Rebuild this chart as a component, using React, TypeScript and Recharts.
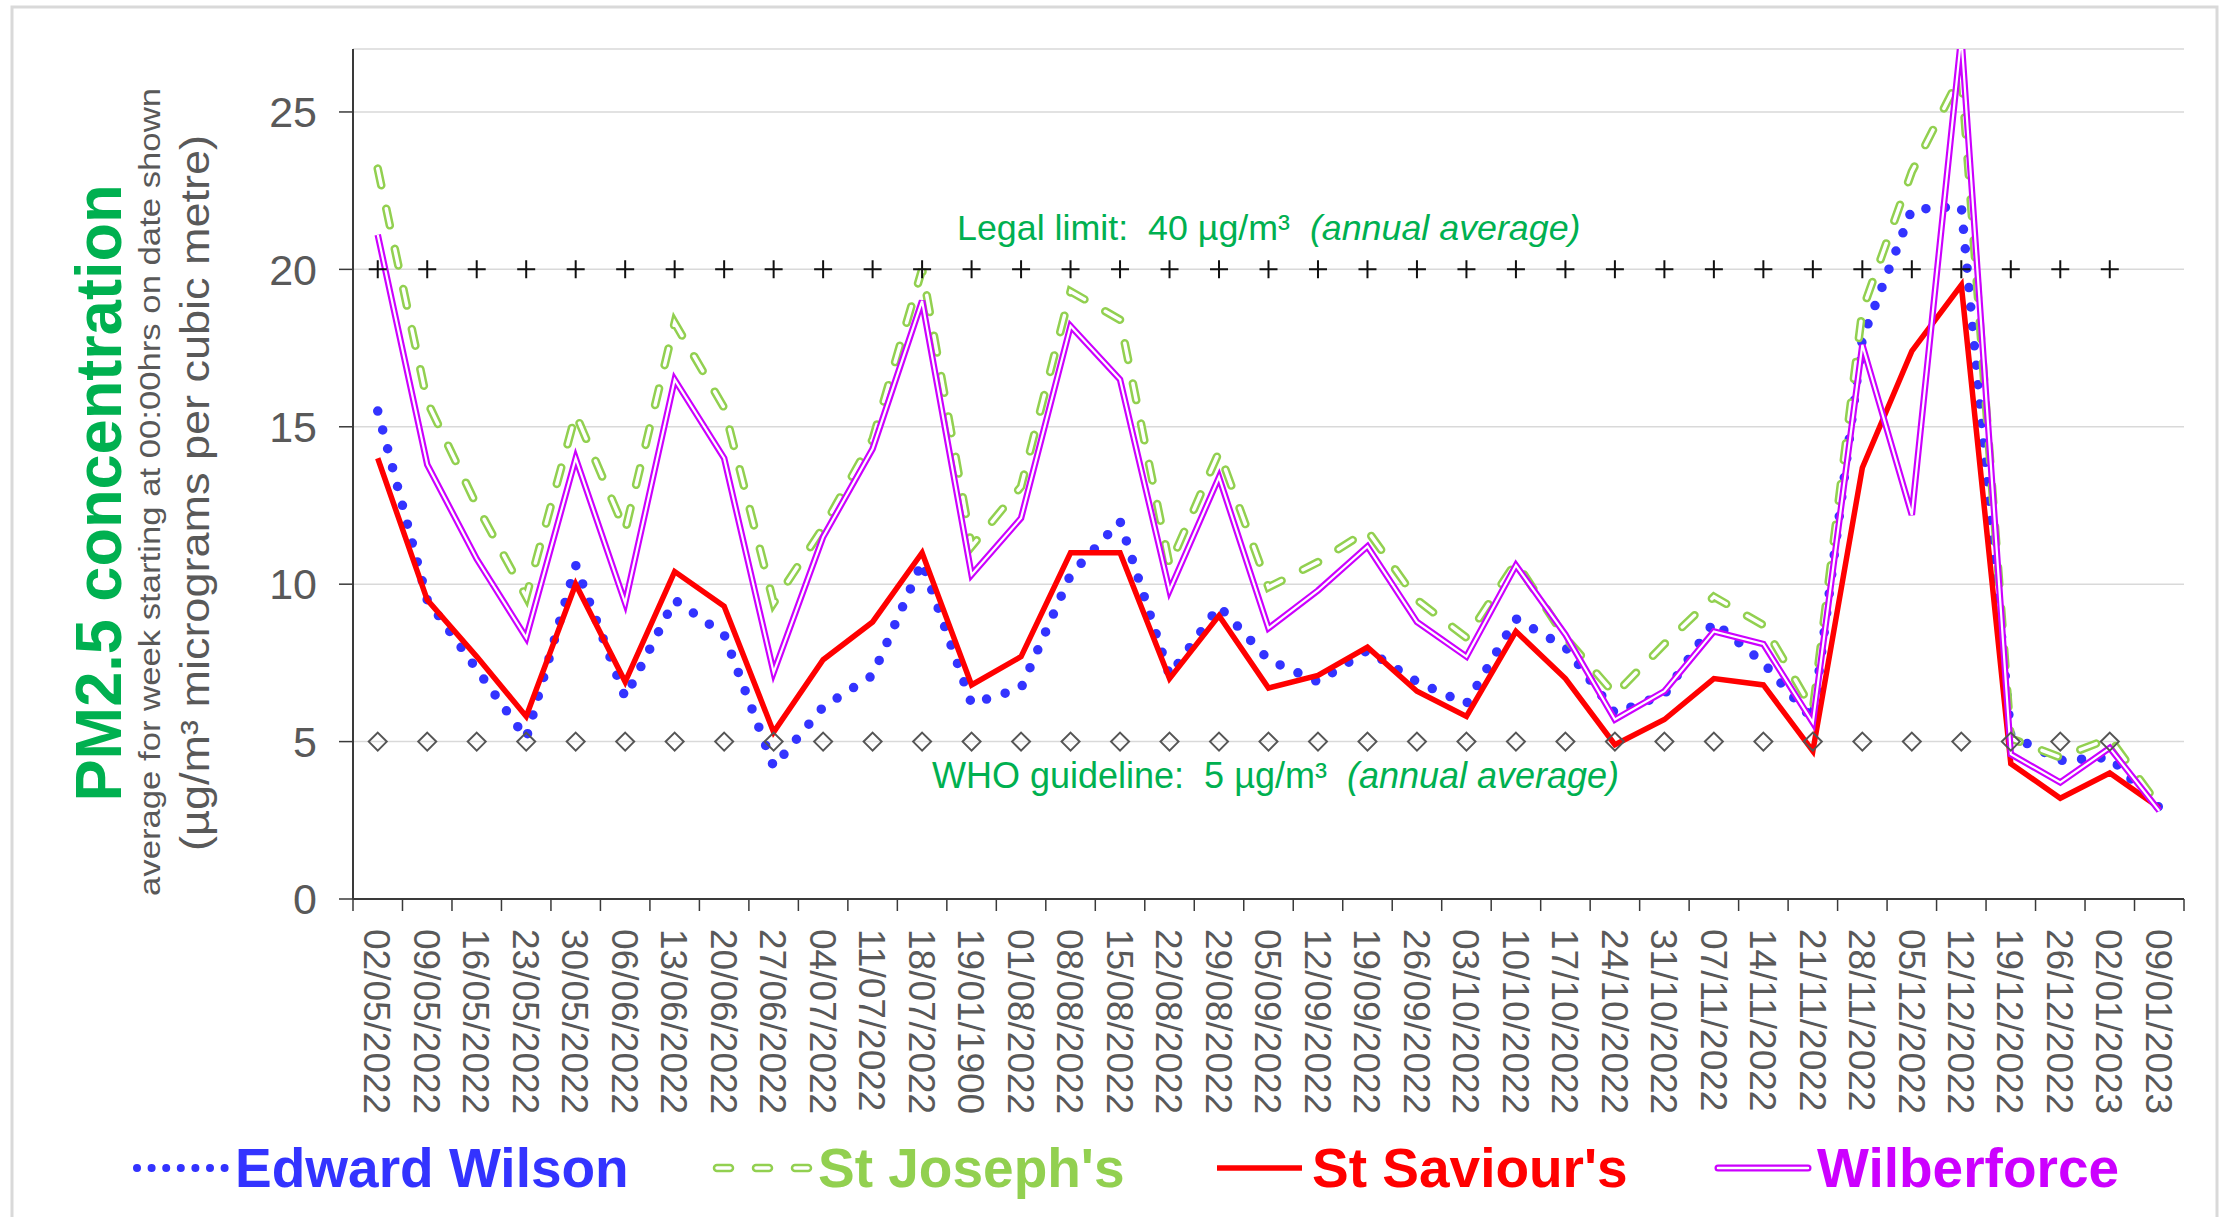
import { LineChart, Line, XAxis, YAxis, CartesianGrid } from "recharts";

const FONT = "'Liberation Sans', Arial, sans-serif";

const dates = [
  "02/05/2022", "09/05/2022", "16/05/2022", "23/05/2022", "30/05/2022", "06/06/2022",
  "13/06/2022", "20/06/2022", "27/06/2022", "04/07/2022", "11/07/2022", "18/07/2022",
  "19/01/1900", "01/08/2022", "08/08/2022", "15/08/2022", "22/08/2022", "29/08/2022",
  "05/09/2022", "12/09/2022", "19/09/2022", "26/09/2022", "03/10/2022", "10/10/2022",
  "17/10/2022", "24/10/2022", "31/10/2022", "07/11/2022", "14/11/2022", "21/11/2022",
  "28/11/2022", "05/12/2022", "12/12/2022", "19/12/2022", "26/12/2022", "02/01/2023",
  "09/01/2023",
];

const edwardWilson = [
  15.5, 9.5, 7.3, 5.1, 10.6, 6.4, 9.5, 8.4, 4.2, 6.1, 7.1, 10.7, 6.2, 6.7, 10.3, 12.0,
  7.1, 9.3, 7.6, 6.9, 7.9, 6.9, 6.2, 8.9, 8.0, 5.9, 6.5, 8.8, 7.5, 5.7, 17.8, 21.9,
  22.0, 5.2, 4.4, 4.5, 2.9,
];
const stJosephs = [
  23.2, 15.8, 12.5, 9.6, 15.4, 11.7, 18.3, 15.6, 9.4, 11.8, 14.6, 20.0, 11.2, 13.1, 19.3, 18.4,
  10.6, 14.2, 9.9, 10.7, 11.7, 9.5, 8.3, 10.7, 8.3, 6.5, 8.1, 9.6, 8.7, 6.0, 18.7, 23.1,
  26.2, 5.1, 4.5, 5.1, 2.95,
];
const stSaviours = [
  14.0, 9.5, 7.7, 5.8, 10.0, 6.9, 10.4, 9.3, 5.3, 7.6, 8.8, 11.0, 6.8, 7.7, 11.0, 11.0,
  7.0, 9.0, 6.7, 7.1, 8.0, 6.6, 5.8, 8.5, 7.0, 4.9, 5.7, 7.0, 6.8, 4.7, 13.7, 17.4,
  19.5, 4.3, 3.2, 4.0, 2.9,
];
const wilberforce = [
  21.1, 13.8, 10.8, 8.3, 14.0, 9.4, 16.5, 14.0, 7.2, 11.5, 14.3, 19.0, 10.3, 12.1, 18.2, 16.5,
  9.8, 13.4, 8.6, 9.8, 11.2, 8.8, 7.7, 10.6, 8.4, 5.7, 6.6, 8.5, 8.1, 5.6, 17.6, 12.2,
  27.4, 4.6, 3.7, 4.8, 2.8,
];

// reference markers (plotted at 20 and 5 on the chart, last week has none)
const legalLimit = [
  20, 20, 20, 20, 20, 20, 20, 20, 20, 20, 20, 20, 20, 20, 20, 20, 20, 20,
  20, 20, 20, 20, 20, 20, 20, 20, 20, 20, 20, 20, 20, 20, 20, 20, 20, 20, null,
];
const whoGuideline = [
  5, 5, 5, 5, 5, 5, 5, 5, 5, 5, 5, 5, 5, 5, 5, 5, 5, 5,
  5, 5, 5, 5, 5, 5, 5, 5, 5, 5, 5, 5, 5, 5, 5, 5, 5, 5, null,
];

const yTicks = [0, 5, 10, 15, 20, 25];

const data = dates.map((d, i) => ({
  idx: i,
  date: d,
  ew: edwardWilson[i],
  sj: stJosephs[i],
  ss: stSaviours[i],
  wf: wilberforce[i],
  legal: legalLimit[i],
  who: whoGuideline[i],
}));

// whole numbers carry the date labels, half steps carry the tick marks between weeks
const xTicks = dates.flatMap((_, i) => [i - 0.5, i]).concat(dates.length - 0.5);

function DateTick(props: any) {
  const { x, y, payload } = props;
  const v = payload.value;
  if (!Number.isInteger(v)) {
    return <line x1={x} y1={y} x2={x} y2={y + 12} stroke="#3a3a3a" strokeWidth={1.5} />;
  }
  const ty = y + 30;
  return (
    <text
      x={x}
      y={ty}
      transform={`rotate(90 ${x} ${ty})`}
      dy="0.36em"
      textAnchor="start"
      fontSize={37}
      fontFamily={FONT}
      fill="#595959"
    >
      {dates[v]}
    </text>
  );
}

function PlusDot(props: any) {
  const { cx, cy, payload } = props;
  if (payload?.legal == null || cy == null) return <g />;
  return (
    <path
      d={`M${cx - 9},${cy}H${cx + 9}M${cx},${cy - 9}V${cy + 9}`}
      stroke="#111"
      strokeWidth={2}
      fill="none"
    />
  );
}

function DiamondDot(props: any) {
  const { cx, cy, payload } = props;
  if (payload?.who == null || cy == null) return <g />;
  return (
    <path
      d={`M${cx},${cy - 9}L${cx + 9},${cy}L${cx},${cy + 9}L${cx - 9},${cy}Z`}
      stroke="#555"
      strokeWidth={2}
      fill="none"
    />
  );
}

const NB = "\u00A0";

export default function App() {
  return (
    <div style={{ position: "absolute", left: 0, top: 0, width: 2224, height: 1217, background: "#fff" }}>
      <LineChart
        width={2224}
        height={1217}
        data={data}
        margin={{ top: 49, right: 40, bottom: 118, left: 0 }}
      >
        <CartesianGrid vertical={false} stroke="#d9d9d9" strokeWidth={1.5} />
        <XAxis
          dataKey="idx"
          type="number"
          domain={[-0.5, dates.length - 0.5]}
          ticks={xTicks}
          interval={0}
          tick={<DateTick />}
          tickLine={false}
          tickSize={0}
          tickMargin={0}
          axisLine={{ stroke: "#3a3a3a", strokeWidth: 2 }}
          height={200}
        />
        <YAxis
          domain={[0, 27]}
          allowDataOverflow
          ticks={yTicks}
          interval={0}
          width={353}
          tickSize={14}
          tickMargin={22}
          tickLine={{ stroke: "#3a3a3a", strokeWidth: 1.5 }}
          axisLine={{ stroke: "#3a3a3a", strokeWidth: 2 }}
          tick={{ fontSize: 43, fill: "#595959", fontFamily: FONT }}
        />
        {/* Edward Wilson: round dots */}
        <Line
          dataKey="ew"
          type="linear"
          stroke="#3333ff"
          strokeWidth={9.5}
          strokeDasharray="0 19.5"
          strokeLinecap="round"
          dot={false}
          activeDot={false}
          isAnimationActive={false}
        />
        {/* St Joseph's: hollow dashes (green dash with white core) */}
        <Line
          dataKey="sj"
          type="linear"
          stroke="#92d050"
          strokeWidth={8.5}
          strokeDasharray="17 24"
          strokeLinecap="round"
          dot={false}
          activeDot={false}
          isAnimationActive={false}
        />
        <Line
          dataKey="sj"
          type="linear"
          stroke="#ffffff"
          strokeWidth={3.5}
          strokeDasharray="17 24"
          strokeLinecap="round"
          dot={false}
          activeDot={false}
          isAnimationActive={false}
        />
        <Line
          dataKey="ss"
          type="linear"
          stroke="#ff0000"
          strokeWidth={5.5}
          dot={false}
          activeDot={false}
          isAnimationActive={false}
        />
        {/* Wilberforce: double line */}
        <Line
          dataKey="wf"
          type="linear"
          stroke="#cc00ff"
          strokeWidth={6.5}
          dot={false}
          activeDot={false}
          isAnimationActive={false}
        />
        <Line
          dataKey="wf"
          type="linear"
          stroke="#ffffff"
          strokeWidth={2.2}
          dot={false}
          activeDot={false}
          isAnimationActive={false}
        />
        <Line
          dataKey="legal"
          type="linear"
          stroke="none"
          dot={<PlusDot />}
          activeDot={false}
          isAnimationActive={false}
        />
        <Line
          dataKey="who"
          type="linear"
          stroke="none"
          dot={<DiamondDot />}
          activeDot={false}
          isAnimationActive={false}
        />
      </LineChart>

      <svg
        width={2224}
        height={1217}
        style={{ position: "absolute", left: 0, top: 0, pointerEvents: "none" }}
        fontFamily={FONT}
      >
        <rect x={12} y={7} width={2205} height={1230} fill="none" stroke="#d9d9d9" strokeWidth={3} />

        {/* axis titles */}
        <text
          transform="translate(121,493) rotate(-90)"
          textAnchor="middle"
          fontSize={65}
          fontWeight="bold"
          fill="#00b050"
          textLength={617}
          lengthAdjust="spacingAndGlyphs"
        >
          PM2.5 concentration
        </text>
        <text
          transform="translate(160,492) rotate(-90)"
          textAnchor="middle"
          fontSize={30}
          fill="#595959"
          textLength={808}
          lengthAdjust="spacingAndGlyphs"
        >
          average for week starting at 00:00hrs on date shown
        </text>
        <text
          transform="translate(209,493) rotate(-90)"
          textAnchor="middle"
          fontSize={40}
          fill="#595959"
          textLength={716}
          lengthAdjust="spacingAndGlyphs"
        >
          (µg/m³ micrograms per cubic metre)
        </text>

        {/* reference notes */}
        <text x={957} y={240} fontSize={35.8} fill="#00b050">
          {`Legal limit:${NB}${NB}40 µg/m³${NB}${NB}`}
          <tspan fontStyle="italic">(annual average)</tspan>
        </text>
        <text x={932} y={788} fontSize={36} fill="#00b050">
          {`WHO guideline:${NB}${NB}5 µg/m³${NB}${NB}`}
          <tspan fontStyle="italic">(annual average)</tspan>
        </text>

        {/* legend */}
        <line x1={137} y1={1168} x2={225} y2={1168} stroke="#3333ff" strokeWidth={8} strokeDasharray="0 14.6" strokeLinecap="round" />
        <text x={235} y={1187} fontSize={55} fontWeight="bold" fill="#3333ff">Edward Wilson</text>

        <line x1={717} y1={1168} x2={812} y2={1168} stroke="#92d050" strokeWidth={8.5} strokeDasharray="13 26" strokeLinecap="round" />
        <line x1={717} y1={1168} x2={812} y2={1168} stroke="#ffffff" strokeWidth={3.5} strokeDasharray="13 26" strokeLinecap="round" />
        <text x={818} y={1187} fontSize={55} fontWeight="bold" fill="#92d050">St Joseph's</text>

        <line x1={1217} y1={1168} x2={1302} y2={1168} stroke="#ff0000" strokeWidth={5.5} />
        <text x={1312} y={1187} fontSize={55} fontWeight="bold" fill="#ff0000">St Saviour's</text>

        <line x1={1718} y1={1168} x2={1808} y2={1168} stroke="#cc00ff" strokeWidth={7} strokeLinecap="round" />
        <line x1={1718} y1={1168} x2={1808} y2={1168} stroke="#ffffff" strokeWidth={2.5} strokeLinecap="round" />
        <text x={1817} y={1187} fontSize={55} fontWeight="bold" fill="#cc00ff">Wilberforce</text>
      </svg>
    </div>
  );
}
